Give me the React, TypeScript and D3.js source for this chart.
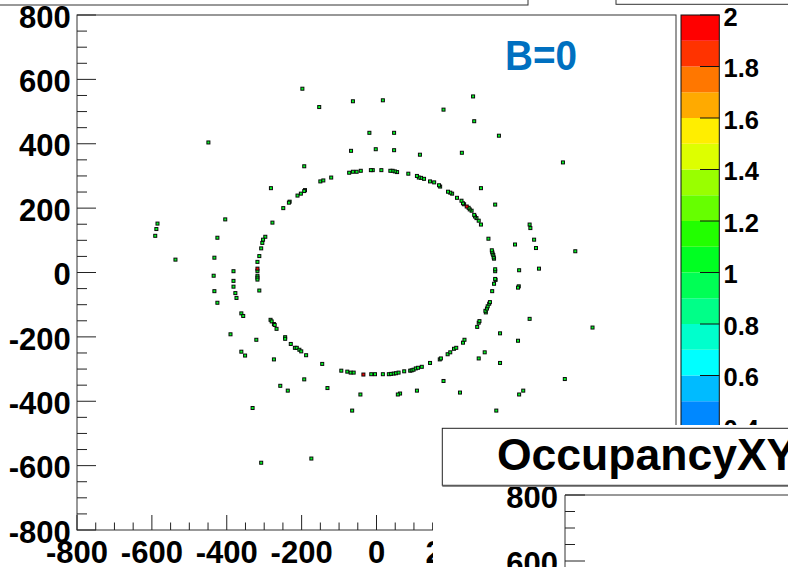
import React from "react";
import * as d3 from "d3";

const W = 788;
const H = 567;
const FONT = "'Liberation Sans', Arial, Helvetica, sans-serif";

// Bins with one hit lying on the inner ring
const ringHits: [number, number][] = [
  [-121, 295], [-150, 283], [-142, 286], [-191, 256], [-193, 253], [-202, 245], [-211, 239],
  [-232, 220], [-234, 217], [-249, 200], [-278, 155], [-297, 111], [-303, 102], [-305, 92],
  [-308, 75], [-313, 51], [-318, 33], [-318, 5], [-318, -10], [-318, -16], [-318, -22],
  [-313, -56], [-283, -147], [-280, -152], [-274, -160], [-272, -163], [-267, -175],
  [-244, -201], [-244, -206], [-229, -222], [-218, -234], [-213, -234], [-206, -240],
  [-201, -245], [-188, -257], [-145, -284], [-94, -305], [-78, -308], [-69, -311], [-61, -311],
  [-14, -316], [-4, -316], [17, -316], [33, -316], [39, -315], [46, -314], [52, -313],
  [59, -311], [74, -307], [90, -305], [94, -304], [99, -302], [105, -298], [111, -296],
  [121, -293], [143, -281], [169, -270], [172, -267], [190, -254], [197, -248], [207, -237],
  [213, -234], [231, -218], [235, -209], [269, -169], [273, -156], [275, -151], [292, -124],
  [291, -119], [295, -112], [297, -105], [301, -97], [303, -92], [309, -58], [314, -35],
  [318, -23], [317, -20], [317, 4], [317, 10], [314, 43], [313, 47], [312, 54], [310, 59],
  [309, 64], [308, 69], [299, 105], [279, 149], [273, 161], [267, 169], [263, 174], [261, 179],
  [254, 192], [249, 196], [246, 201], [234, 212], [231, 215], [227, 223], [215, 232],
  [202, 245], [197, 248], [191, 251], [170, 267], [167, 271], [154, 280], [143, 283],
  [127, 291], [119, 294], [113, 295], [108, 300], [85, 307], [55, 312], [49, 314], [43, 316],
  [37, 316], [13, 318], [-10, 318], [-15, 318], [-42, 316], [-53, 313], [-63, 313], [-73, 310],
];

// Bins with two hits
const doubleHits: [number, number][] = [
  [-318, 12], [241, 205], [-35, -317],
];

// Single hits scattered outside the ring
const outerHits: [number, number][] = [
  [-198, 571], [-153, 514], [-449, 404], [-193, 330], [-282, 262], [-404, 165], [-585, 152],
  [-588, 135], [-591, 114], [-425, 108], [-537, 40], [-433, 46], [-382, 4], [-435, -10],
  [-382, -26], [-382, -44], [-433, -58], [-377, -64], [-374, -79], [-425, -94], [-361, -127],
  [-356, -135], [-390, -192], [-321, -209], [-361, -246], [-351, -258], [-274, -270],
  [-193, -332], [-257, -352], [-237, -367], [-131, -359], [-331, -421], [-174, -578],
  [-308, -591], [-63, 532], [17, 535], [258, 547], [179, 506], [261, 470], [-19, 434],
  [47, 434], [327, 425], [-68, 378], [-2, 383], [47, 380], [116, 366], [228, 372], [498, 342],
  [279, 262], [317, 211], [409, 149], [411, 138], [421, 102], [370, 87], [426, 76], [531, 66],
  [381, 7], [434, 12], [380, -43], [378, -47], [409, -144], [577, -171], [330, -189],
  [378, -212], [289, -248], [273, -267], [330, -281], [179, -337], [503, -331], [108, -367],
  [63, -376], [57, -379], [223, -373], [392, -367], [381, -379], [-43, -379], [-65, -429],
  [320, -429],
];

const axisTicks = [-800, -600, -400, -200, 0, 200, 400, 600, 800];
const axisLabels = ["-800", "-600", "-400", "-200", "0", "200", "400", "600", "800"];
const zTicks = [0, 0.2, 0.4, 0.6, 0.8, 1, 1.2, 1.4, 1.6, 1.8, 2];
const zLabels = ["0", "0.2", "0.4", "0.6", "0.8", "1", "1.2", "1.4", "1.6", "1.8", "2"];
const paletteColors = [
  "#6600cc", "#3300ff", "#0018ff", "#0050ff", "#0088ff", "#00bbff", "#00ffff", "#00ffcc",
  "#00ff88", "#00ff55", "#00ff22", "#22ff00", "#66ff00", "#99ff00", "#ddff00", "#ffee00",
  "#ffaa00", "#ff7700", "#ff3300", "#ff0000",
];
const lowerTicks = [600, 800];
const lowerLabels = ["600", "800"];

const frame = { left: 77, right: 676, top: 15, bottom: 530 };
// region taken by the neighbouring pad in the lower right
const lowerPad = { x: 433, y: 425 };

export default function App() {
  const x = d3.scaleLinear().domain([-800, 800]).range([frame.left, frame.right]);
  const y = d3.scaleLinear().domain([-800, 800]).range([frame.bottom, frame.top]);
  const z = d3.scaleLinear().domain([0, 2]).range([frame.bottom, frame.top]);
  const zColor = d3.scaleQuantize<string>().domain([0, 2]).range(paletteColors);
  const minor = d3.range(-800, 801, 50).filter((v) => v % 200 !== 0);
  const bands = d3.range(paletteColors.length).map((i) => [i * 0.1, (i + 1) * 0.1]);

  const yLow = d3.scaleLinear().domain([600, 800]).range([561, 495]);
  const lowMinor = d3.range(600, 801, 50).filter((v) => v % 200 !== 0);

  const markers = [
    ...ringHits.map((p) => ({ p, v: 1 })),
    ...outerHits.map((p) => ({ p, v: 1 })),
    ...doubleHits.map((p) => ({ p, v: 2 })),
  ];
  const ms = 3;
  const axisColor = "#222";

  // labels that fall entirely under the lower-right pad are not drawn
  const xLabelShown = (v: number) => x(v) - 30 < lowerPad.x;
  const zLabelShown = (v: number) => z(v) - 10 < lowerPad.y;

  return (
    <svg
      width={W}
      height={H}
      style={{ position: "fixed", left: 0, top: 0, background: "#fff" }}
      fontFamily={FONT}
    >
      <defs>
        <clipPath id="mainPad">
          <path
            d={`M0,0H${W}V${lowerPad.y}H${lowerPad.x}V${H}H0Z`}
          />
        </clipPath>
      </defs>
      <rect x={0} y={0} width={W} height={H} fill="#fff" />

      {/* title boxes of the pads above */}
      <rect x={-5} y={-40} width={533} height={45} fill="#fff" stroke="#333" strokeWidth={1} />
      <rect x={616} y={-40} width={200} height={44.3} fill="#fff" stroke="#333" strokeWidth={1} />

      <g clipPath="url(#mainPad)">
        {/* frame */}
        <rect
          x={frame.left}
          y={frame.top}
          width={frame.right - frame.left}
          height={frame.bottom - frame.top}
          fill="none"
          stroke="#333"
          strokeWidth={1}
        />

        {/* x axis ticks */}
        {axisTicks.map((v) => (
          <line key={"xt" + v} x1={x(v)} x2={x(v)} y1={frame.bottom} y2={frame.bottom - 15} stroke={axisColor} />
        ))}
        {minor.map((v) => (
          <line key={"xm" + v} x1={x(v)} x2={x(v)} y1={frame.bottom} y2={frame.bottom - 7.5} stroke={axisColor} />
        ))}
        {/* y axis ticks */}
        {axisTicks.map((v) => (
          <line key={"yt" + v} x1={frame.left} x2={frame.left + 19} y1={y(v)} y2={y(v)} stroke={axisColor} />
        ))}
        {minor.map((v) => (
          <line key={"ym" + v} x1={frame.left} x2={frame.left + 10} y1={y(v)} y2={y(v)} stroke={axisColor} />
        ))}

        {/* axis labels */}
        {axisTicks.map((v, i) => (
          <text
            key={"yl" + v}
            x={70.7}
            y={y(v) + 12.7}
            textAnchor="end"
            fontSize={31}
            fontWeight="bold"
            fill="#000"
          >
            {axisLabels[i]}
          </text>
        ))}
        {axisTicks.filter(xLabelShown).map((v) => (
          <text
            key={"xl" + v}
            x={x(v)}
            y={562.5}
            textAnchor="middle"
            fontSize={31}
            fontWeight="bold"
            fill="#000"
          >
            {axisLabels[axisTicks.indexOf(v)]}
          </text>
        ))}

        {/* hits */}
        {markers.map(({ p, v }, i) => (
          <rect
            key={"m" + i}
            x={x(p[0]) - ms / 2}
            y={y(p[1]) - ms / 2}
            width={ms}
            height={ms}
            fill={zColor(Math.min(v, 1.999))}
            stroke="#0a0a0a"
            strokeWidth={1}
          />
        ))}

        {/* B=0 annotation */}
        <text
          x={505}
          y={70}
          fontSize={42}
          fontWeight="bold"
          fill="#0070c0"
          textLength={72}
          lengthAdjust="spacingAndGlyphs"
        >
          B=0
        </text>

        {/* colour palette */}
        {bands.map(([a, b], i) => (
          <rect key={"b" + i} x={681} y={z(b)} width={38.3} height={z(a) - z(b)} fill={paletteColors[i]} />
        ))}
        <rect x={681} y={frame.top} width={38.3} height={frame.bottom - frame.top} fill="none" stroke="#111" strokeWidth={1} />
        {zTicks.map((v) => (
          <line key={"zt" + v} x1={700} x2={719.3} y1={z(v)} y2={z(v)} stroke="#111" />
        ))}
        {zTicks.filter(zLabelShown).map((v) => (
          <text key={"zl" + v} x={723.5} y={z(v) + 10.8} fontSize={25.5} fontWeight="bold" fill="#000">
            {zLabels[zTicks.indexOf(v)]}
          </text>
        ))}
      </g>

      {/* neighbouring pad, lower right */}
      <line x1={565} x2={W + 5} y1={495} y2={495} stroke="#333" />
      <line x1={565} x2={565} y1={495} y2={H + 5} stroke="#333" />
      {lowerTicks.map((v) => (
        <line key={"lt" + v} x1={565} x2={585} y1={yLow(v)} y2={yLow(v)} stroke={axisColor} />
      ))}
      {lowMinor.map((v) => (
        <line key={"lm" + v} x1={565} x2={575} y1={yLow(v)} y2={yLow(v)} stroke={axisColor} />
      ))}
      {lowerTicks.map((v, i) => (
        <text
          key={"ll" + v}
          x={558}
          y={yLow(v) + 12.7}
          textAnchor="end"
          fontSize={31}
          fontWeight="bold"
          fill="#000"
        >
          {lowerLabels[i]}
        </text>
      ))}
      <rect x={442.3} y={428.3} width={400} height={57} fill="#fff" stroke="#222" strokeWidth={1} />
      <line x1={442.3} x2={W + 5} y1={486.3} y2={486.3} stroke="#888" strokeWidth={1.2} />
      <text x={497} y={470} fontSize={44.5} fontWeight="bold" fill="#000">
        OccupancyXY
      </text>
    </svg>
  );
}
